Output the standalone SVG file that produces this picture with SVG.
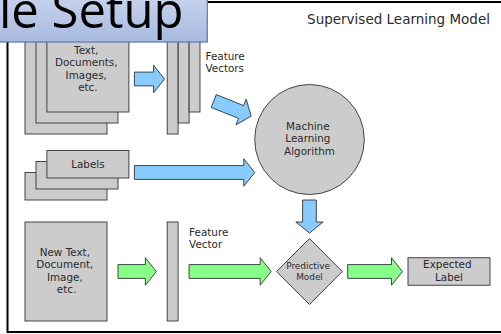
<svg xmlns="http://www.w3.org/2000/svg" width="501" height="334" viewBox="0 0 501 334">
  <defs>
    <linearGradient id="titleFill" x1="0" y1="0" x2="0" y2="1">
      <stop offset="0" stop-color="#ccd6ee"/>
      <stop offset="1" stop-color="#a7badf"/>
    </linearGradient>
    <style>
      .box { fill: #cccccc; stroke: #333333; stroke-width: 0.9; }
      .blue { fill: #88ccff; stroke: #333333; stroke-width: 0.9; stroke-linejoin: miter; }
      .green { fill: #88ff88; stroke: #333333; stroke-width: 0.9; stroke-linejoin: miter; }
      .lbl { font-family: "DejaVu Sans", sans-serif; font-size: 10.4px; fill: #2a2a2a; }
      .mid { text-anchor: middle; }
      .small { font-size: 8.9px; }
    </style>
  </defs>

  <rect width="501" height="334" fill="#ffffff"/>

  <!-- picture frame -->
  <rect x="7.5" y="2" width="500" height="330" fill="none" stroke="#000000" stroke-width="2"/>

  <text class="lbl" x="490" y="23.5" text-anchor="end" style="font-size:13.5px">Supervised Learning Model</text>

  <!-- training documents -->
  <g id="documents">
    <rect class="box" x="25" y="35" width="82" height="99"/>
    <rect class="box" x="36" y="24" width="82" height="99"/>
    <rect class="box" x="46.9" y="13" width="82" height="99"/>
    <text class="lbl mid">
      <tspan x="87.9" y="53.5">Text,</tspan>
      <tspan x="87.9" y="66">Documents,</tspan>
      <tspan x="87.9" y="78.5">Images,</tspan>
      <tspan x="87.9" y="91">etc.</tspan>
    </text>
  </g>

  <!-- training feature vectors -->
  <g id="feature-vectors">
    <rect class="box" x="167.2" y="35" width="10.9" height="99"/>
    <rect class="box" x="178.2" y="24" width="10.9" height="99"/>
    <rect class="box" x="189.1" y="13" width="10.9" height="99"/>
    <text class="lbl">
      <tspan x="205.5" y="59.8">Feature</tspan>
      <tspan x="205.5" y="72.3">Vectors</tspan>
    </text>
  </g>

  <!-- labels -->
  <g id="labels">
    <rect class="box" x="25" y="172.5" width="82" height="27.5"/>
    <rect class="box" x="36" y="161.5" width="82" height="27.5"/>
    <rect class="box" x="46.9" y="150.5" width="82" height="27.5"/>
    <text class="lbl mid" x="87.9" y="168">Labels</text>
  </g>

  <!-- learning algorithm -->
  <g id="algorithm">
    <ellipse class="box" cx="309.5" cy="139.5" rx="54.8" ry="55"/>
    <text class="lbl mid">
      <tspan x="309.5" y="129.8">Machine</tspan>
      <tspan x="309.5" y="142.3">Learning</tspan>
      <tspan x="309.5" y="154.8">Algorithm</tspan>
    </text>
  </g>

  <!-- new input -->
  <g id="new-input">
    <rect class="box" x="25" y="222" width="82" height="99"/>
    <text class="lbl mid">
      <tspan x="66.5" y="255.8">New Text,</tspan>
      <tspan x="66.5" y="268.3">Document,</tspan>
      <tspan x="66.5" y="280.8">Image,</tspan>
      <tspan x="66.5" y="293.3">etc.</tspan>
    </text>
  </g>

  <!-- new feature vector -->
  <g id="feature-vector">
    <rect class="box" x="167.2" y="222" width="10.9" height="99"/>
    <text class="lbl">
      <tspan x="189.1" y="235.8">Feature</tspan>
      <tspan x="189.1" y="248.3">Vector</tspan>
    </text>
  </g>

  <!-- predictive model -->
  <g id="predictive-model">
    <polygon class="box" points="309.5,238.5 342.3,271.5 309.5,304.5 276.6,271.5"/>
    <text class="lbl mid small">
      <tspan x="309.5" y="269.2">Predictive</tspan>
      <tspan x="309.5" y="279.9">Model</tspan>
    </text>
  </g>

  <!-- expected label -->
  <g id="expected-label">
    <rect class="box" x="408" y="257.75" width="82" height="27.5"/>
    <text class="lbl mid">
      <tspan x="449" y="268.3">Expected</tspan>
      <tspan x="449" y="280.8">Label</tspan>
    </text>
  </g>

  <!-- connectors: block arrows -->
  <g id="connectors">
    <polygon class="blue" points="134.4,72.1 153.6,72.1 153.6,65.25 164.5,79 153.6,92.75 153.6,85.9 134.4,85.9"/>
    <polygon class="blue" points="216.3,94.6 243.6,105.6 246.2,99.2 251.2,116.1 236,124.8 238.5,118.4 211.2,107.4"/>
    <polygon class="blue" points="134.4,165.6 243.8,165.6 243.8,158.75 254.75,172.5 243.8,186.25 243.8,179.4 134.4,179.4"/>
    <polygon class="blue" points="316.3,200 316.3,222 323.1,222 309.5,233 295.8,222 302.6,222 302.6,200"/>
    <polygon class="green" points="118,264.6 145.35,264.6 145.35,257.75 156.3,271.5 145.35,285.25 145.35,278.4 118,278.4"/>
    <polygon class="green" points="189.1,264.6 260.2,264.6 260.2,257.75 271.2,271.5 260.2,285.25 260.2,278.4 189.1,278.4"/>
    <polygon class="green" points="347.7,264.6 391.5,264.6 391.5,257.75 402.4,271.5 391.5,285.25 391.5,278.4 347.7,278.4"/>
  </g>

  <!-- slide title banner overlapping the figure -->
  <g id="title">
    <rect x="-10" y="-10" width="217.3" height="52" fill="url(#titleFill)" stroke="#5a79ae" stroke-width="1.2"/>
    <text x="-1" y="28" font-family="'Open Sans', sans-serif" font-size="49" fill="#000000">le Setup</text>
  </g>
</svg>
